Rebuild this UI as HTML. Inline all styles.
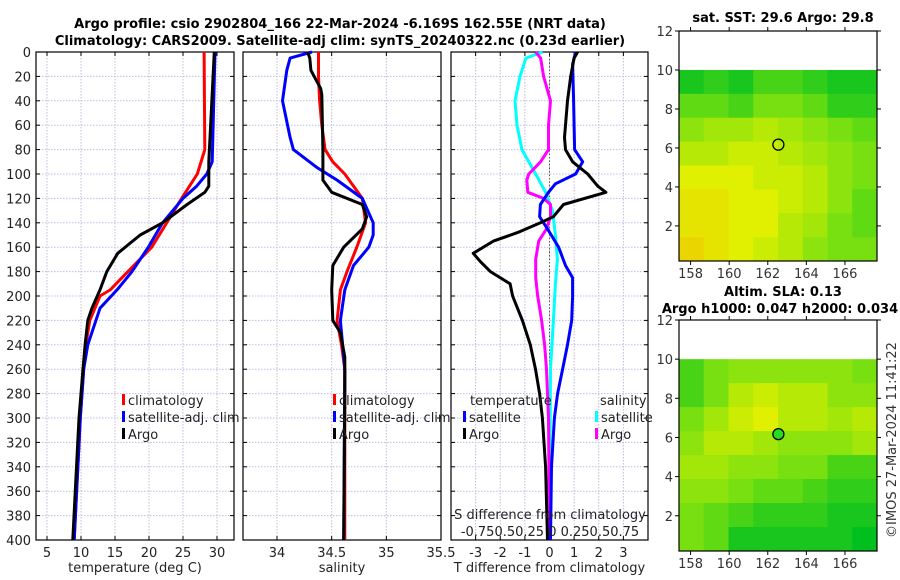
<!DOCTYPE html>
<html><head><meta charset="utf-8"><style>
body{margin:0;background:#fff}
svg{display:block;font-family:"DejaVu Sans","Liberation Sans",sans-serif}
</style></head><body>
<svg id="c" width="900" height="580" viewBox="0 0 900 580">
<g font-weight="bold" font-size="13" text-anchor="middle">
<text x="340" y="28">Argo profile: csio 2902804_166 22-Mar-2024 -6.169S 162.55E (NRT data)</text>
<text x="340" y="45">Climatology: CARS2009. Satellite-adj clim: synTS_20240322.nc (0.23d earlier)</text>
</g>
<text x="783" y="22" font-size="13" font-weight="bold" text-anchor="middle">sat. SST: 29.6 Argo: 29.8</text>
<text x="783" y="296" font-size="13" font-weight="bold" text-anchor="middle">Altim. SLA: 0.13</text>
<text x="780" y="313" font-size="13" font-weight="bold" text-anchor="middle">Argo h1000: 0.047 h2000: 0.034</text>
<text transform="translate(896,440) rotate(-90)" font-size="13" text-anchor="middle" fill="#333">©IMOS 27-Mar-2024 11:41:22</text>
</svg>
<script>
const depthTicks=[0,20,40,60,80,100,120,140,160,180,200,220,240,260,280,300,320,340,360,380,400];
const tempTicks=[5,10,15,20,25,30];
const salTicks=[34,34.5,35,35.5];
const tdiffTicks=[-3,-2,-1,0,1,2,3];
const sdiffTickLabels="-0.750.50.25 0  0.250.50.75";

const climTdep=[0,80,100,120,140,160,180,195,200,220,240,260,300,400];
const climT=[28.1,28.2,27.1,24.8,22.6,20.4,16.9,14.3,12.8,11.3,10.7,10.4,9.9,9.0];
const satTdep=[0,90,100,110,120,140,160,180,195,210,240,260,300,400];
const satT=[29.7,29.3,28.5,27,25,22,19.9,17.5,15.3,12.8,11,10.4,9.9,9.0];
const argoTdep=[0,90,110,115,125,140,150,165,180,195,210,220,240,260,300,400];
const argoT=[29.6,28.8,28.8,28.2,25.6,22,18.7,15.4,13.8,12.8,11.6,11,10.6,10.3,9.7,8.8];

const satSdep=[0,5,15,40,70,80,95,105,120,140,150,160,175,195,220,240,260,400];
const satS=[34.32,34.12,34.09,34.05,34.12,34.15,34.37,34.55,34.78,34.88,34.88,34.84,34.70,34.62,34.58,34.60,34.62,34.61];
const climSdep=[0,20,40,60,80,90,100,120,140,160,180,195,220,240,260,400];
const climS=[34.38,34.38,34.39,34.41,34.44,34.51,34.62,34.78,34.81,34.73,34.64,34.58,34.55,34.59,34.62,34.62];
const argoSdep=[0,5,15,30,35,80,105,115,125,135,145,160,175,195,220,230,250,280,400];
const argoS=[34.28,34.30,34.31,34.40,34.41,34.42,34.42,34.50,34.78,34.82,34.78,34.61,34.51,34.50,34.51,34.58,34.62,34.62,34.61];

const dTargoDep=[0,5,20,40,70,80,90,100,110,115,125,135,140,148,155,165,172,180,190,200,220,240,260,280,300,340,400];
const dTargo=[1.14,1.0,0.86,0.73,0.61,0.65,0.94,1.55,1.96,2.29,0.57,0.16,-0.37,-1.3,-2.28,-3.1,-2.8,-2.4,-1.6,-1.5,-1.1,-0.78,-0.57,-0.4,-0.29,-0.16,-0.08];
const dTsatDep=[0,10,40,80,90,100,108,115,125,135,145,160,175,185,200,220,240,260,280,300,340,400];
const dTsat=[1.06,0.94,0.98,1.02,1.35,1.06,0.24,-0.04,-0.37,-0.4,-0.08,0.37,0.65,0.94,0.94,0.9,0.73,0.53,0.33,0.2,0.08,0.04];
const dSsatDep=[0,5,20,40,60,80,100,115,130,150,170,190,220,260,400];
const dSsat=[-0.07,-0.24,-0.3,-0.35,-0.33,-0.28,-0.14,-0.04,0.03,0.06,0.08,0.06,0.04,0.01,0.0];
const dSargoDep=[0,5,20,40,60,80,90,100,105,115,120,125,135,145,155,170,185,200,220,240,260,300,400];
const dSargo=[-0.14,-0.09,-0.06,0.01,-0.01,-0.01,-0.09,-0.21,-0.23,-0.22,-0.06,0.01,0.01,-0.03,-0.11,-0.14,-0.14,-0.12,-0.08,-0.05,-0.03,-0.01,0.0];

const lonTicks=[158,160,162,164,166];
const latTicks=[2,4,6,8,10,12];
const sstGrid=[
[0.1,0.2,0.1,0.3,0.3,0.2,0.1,0.1],
[0.4,0.4,0.3,0.5,0.5,0.4,0.2,0.2],
[0.6,0.7,0.7,0.8,0.7,0.6,0.5,0.4],
[0.8,0.8,0.9,0.9,0.8,0.7,0.6,0.5],
[1.0,1.0,1.0,0.9,0.9,0.8,0.6,0.5],
[1.1,1.1,1.0,1.0,0.9,0.8,0.6,0.4],
[1.1,1.1,1.0,1.0,0.8,0.7,0.5,0.4],
[1.2,1.1,1.0,0.9,0.8,0.6,0.5,0.5]];
const slaGrid=[
[0.3,0.5,0.6,0.6,0.6,0.6,0.6,0.5],
[0.3,0.5,0.8,0.9,0.8,0.8,0.6,0.6],
[0.5,0.7,0.9,1.0,0.8,0.8,0.7,0.8],
[0.6,0.8,0.8,0.7,0.6,0.6,0.6,0.7],
[0.7,0.7,0.6,0.6,0.5,0.5,0.3,0.3],
[0.6,0.6,0.5,0.4,0.4,0.3,0.2,0.2],
[0.5,0.4,0.3,0.2,0.2,0.2,0.1,0.1],
[0.5,0.4,0.1,0.1,0.1,0.1,0.1,0.0]];
const argoLon=162.55, argoLat=6.17;

const NS='http://www.w3.org/2000/svg';
const svg=document.getElementById('c');
function mk(tag,attrs,parent){const e=document.createElementNS(NS,tag);for(const k in attrs)e.setAttribute(k,attrs[k]);(parent||svg).appendChild(e);return e;}

const top0=52,bot0=540;
const sy=d=>top0+d/400*(bot0-top0);
function lin(d0,d1,r0,r1){return v=>r0+(v-d0)/(d1-d0)*(r1-r0);}

const panels=[
 {name:'temperature-panel',x0:36,x1:234,sx:lin(5,30,47,217),ticks:tempTicks,label:'temperature (deg C)',fmt:v=>v,showY:true},
 {name:'salinity-panel',x0:243,x1:441,sx:lin(34,35.5,277,441),ticks:salTicks,label:'salinity',fmt:v=>v},
 {name:'difference-panel',x0:451,x1:648,sx:lin(-4,4,451,648),ticks:tdiffTicks,label:'T difference from climatology',fmt:v=>v}
];
panels.forEach(p=>{
 const g=mk('g',{});
 
 
 depthTicks.forEach(d=>{const l=mk('line',{x1:p.x0,x2:p.x1,y1:sy(d),y2:sy(d),stroke:'#b8c0e8','stroke-dasharray':'1.5,1.5','stroke-width':1},g);
  
  mk('line',{x1:p.x0,x2:p.x0+4,y1:sy(d),y2:sy(d),stroke:'#000'},g);mk('line',{x1:p.x1-4,x2:p.x1,y1:sy(d),y2:sy(d),stroke:'#000'},g);
  if(p.showY){const t=mk('text',{x:p.x0-5,y:sy(d)+5,'font-size':13,'text-anchor':'end',fill:'#222'},g);t.textContent=d;
   }
 });
 p.ticks.forEach(v=>{const x=p.sx(v);
  if(x>p.x0+1&&x<p.x1-1){const l=mk('line',{x1:x,x2:x,y1:top0,y2:bot0,stroke:'#c8b8d8','stroke-dasharray':'1.5,1.5'},g);
   }
  mk('line',{x1:x,x2:x,y1:bot0-4,y2:bot0,stroke:'#000'},g);mk('line',{x1:x,x2:x,y1:top0,y2:top0+4,stroke:'#000'},g);
  const t=mk('text',{x:x,y:bot0+17,'font-size':13,'text-anchor':'middle',fill:'#222'},g);t.textContent=p.fmt(v);
  
 });
 mk('rect',{x:p.x0,y:top0,width:p.x1-p.x0,height:bot0-top0,fill:'none',stroke:'#000','stroke-width':1.2},g);
 const t=mk('text',{x:(p.x0+p.x1)/2,y:572,'font-size':13,'text-anchor':'middle',fill:'#222'},g);t.textContent=p.label;
 
});
const zl=mk('line',{x1:panels[2].sx(0),x2:panels[2].sx(0),y1:top0,y2:bot0,stroke:'#555','stroke-dasharray':'1.5,2'});


function series(dep,val,sx,color,name){
 const pts=dep.map((d,i)=>sx(val[i]).toFixed(1)+','+sy(d).toFixed(1)).join(' ');
 const l=mk('polyline',{points:pts,fill:'none',stroke:color,'stroke-width':3,'stroke-linejoin':'round'});
 
}
const sT=panels[0].sx,sS=panels[1].sx,sD=panels[2].sx,sDS=v=>sD(v*4);
series(climTdep,climT,sT,'#ff0000','temp-climatology-line');
series(satTdep,satT,sT,'#0000ff','temp-satellite-line');
series(argoTdep,argoT,sT,'#000','temp-argo-line');
series(climSdep,climS,sS,'#ff0000','sal-climatology-line');
series(satSdep,satS,sS,'#0000ff','sal-satellite-line');
series(argoSdep,argoS,sS,'#000','sal-argo-line');
series(dSsatDep,dSsat,sDS,'#00ffff','sdiff-satellite-line');
series(dSargoDep,dSargo,sDS,'#ff00ff','sdiff-argo-line');
series(dTsatDep,dTsat,sD,'#0000ff','tdiff-satellite-line');
series(dTargoDep,dTargo,sD,'#000','tdiff-argo-line');

function legendItem(x,y,color,label,name){
 const g=mk('g',{});
 if(color)mk('rect',{x:x,y:y-11,width:3,height:11,fill:color},g);
 const t=mk('text',{x:x+(color?6:0),y:y,'font-size':13,fill:'#222'},g);t.textContent=label;
}
[[122,'#ff0000','climatology'],[122,'#0000ff','satellite-adj. clim'],[122,'#000','Argo']].forEach((it,i)=>legendItem(it[0],405+i*17,it[1],it[2],'legend-entry'));
[[333,'#ff0000','climatology'],[333,'#0000ff','satellite-adj. clim'],[333,'#000','Argo']].forEach((it,i)=>legendItem(it[0],405+i*17,it[1],it[2],'legend-entry'));
legendItem(470,405,null,'temperature','legend-title');
legendItem(463,422,'#0000ff','satellite','legend-entry');
legendItem(463,439,'#000','Argo','legend-entry');
legendItem(600,405,null,'salinity','legend-title');
legendItem(595,422,'#00ffff','satellite','legend-entry');
legendItem(595,439,'#ff00ff','Argo','legend-entry');
let st=mk('text',{x:550,y:519,'font-size':13,'text-anchor':'middle',fill:'#222'});st.textContent='S difference from climatology';

st=mk('text',{x:550,y:536,'font-size':13,'text-anchor':'middle',fill:'#222','xml:space':'preserve'});st.textContent=sdiffTickLabels;


function col(v){
 const stops=[[0,[0,192,32]],[0.5,[120,224,16]],[1,[224,240,0]],[1.3,[240,200,0]]];
 for(let i=0;i<stops.length-1;i++){const a=stops[i],b=stops[i+1];if(v<=b[0]||i==stops.length-2){const t=Math.max(0,Math.min(1,(v-a[0])/(b[0]-a[0])));
  return 'rgb('+a[1].map((c,k)=>Math.round(c+(b[1][k]-c)*t)).join(',')+')';}}
}
function map(name,y0,y1,grid,fillMarker){
 const x0=679,x1=877;
 const sx=lin(157.4,167.66,x0,x1), syM=lin(12,0.2,y0,y1);
 const g=mk('g',{});
 const nr=grid.length,nc=grid[0].length;
 const lonA=157.4,lonB=167.66,latA=10,latB=0.2;
 grid.forEach((row,r)=>row.forEach((v,c)=>{
  const xa=sx(lonA+(lonB-lonA)*c/nc),xb=sx(lonA+(lonB-lonA)*(c+1)/nc);
  const ya=syM(latA+(latB-latA)*r/nr),yb=syM(latA+(latB-latA)*(r+1)/nr);
  const cell=mk('rect',{x:xa,y:ya,width:xb-xa+0.5,height:yb-ya+0.5,fill:col(v)},g);
  
 }));
 mk('rect',{x:x0,y:y0,width:x1-x0,height:y1-y0,fill:'none',stroke:'#000','stroke-width':1.2},g);
 latTicks.forEach(v=>{const y=syM(v);mk('line',{x1:x0-4,x2:x0,y1:y,y2:y,stroke:'#000'},g);mk('line',{x1:x1,x2:x1+4,y1:y,y2:y,stroke:'#000'},g);
  const t=mk('text',{x:x0-6,y:y+5,'font-size':13,'text-anchor':'end',fill:'#333'},g);t.textContent=v;
  });
 lonTicks.forEach(v=>{const x=sx(v);mk('line',{x1:x,x2:x,y1:y1,y2:y1+4,stroke:'#000'},g);mk('line',{x1:x,x2:x,y1:y0-4,y2:y0,stroke:'#000'},g);
  const t=mk('text',{x:x,y:y1+17,'font-size':13,'text-anchor':'middle',fill:'#333'},g);t.textContent=v;
  });
 const m=mk('circle',{cx:sx(argoLon),cy:syM(argoLat),r:5.5,fill:fillMarker,stroke:'#000','stroke-width':1.3},g);
 
}
map('sst-map',31,261,sstGrid,'none');
map('sla-map',320,551,slaGrid,'#22dd22');
</script>
</body></html>
